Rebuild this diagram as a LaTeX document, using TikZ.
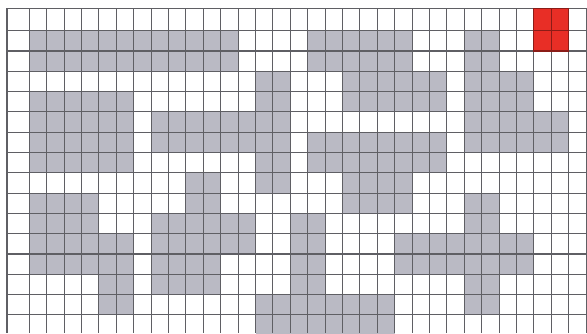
\documentclass[tikz,border=0pt]{standalone}
\usepackage{xcolor}
\usepackage{tikz}

\definecolor{wallgray}{RGB}{186,186,196}
\definecolor{goalred}{RGB}{232,46,38}
\definecolor{linegray}{RGB}{95,95,100}

\begin{document}
\begin{tikzpicture}[
  x=1pt, y=-1pt,
  wall/.style={fill=wallgray},
  goal/.style={fill=goalred},
  gridline/.style={draw=linegray, line width=1.1pt},
  goalline/.style={draw=goalred!60!black, line width=1.1pt},
]

%% ── Cadre de l'image ────────────────────────────────────────────────────
\useasboundingbox (0,0) rectangle (587,333);
\clip (0,0) rectangle (587,333);

%% ── Cases grises (rangée / première colonne / dernière colonne) ─────────
\foreach \r/\a/\b in {
  1/1/12, 1/17/22, 1/26/27,
  2/1/12, 2/17/22, 2/26/27,
  3/14/15, 3/19/24, 3/26/29,
  4/1/6, 4/14/15, 4/19/24, 4/26/29,
  5/1/6, 5/8/15, 5/26/31,
  6/1/6, 6/8/15, 6/17/24, 6/26/31,
  7/1/6, 7/14/15, 7/17/24,
  8/10/11, 8/14/15, 8/19/22,
  9/1/4, 9/10/11, 9/19/22, 9/26/27,
  10/1/4, 10/8/13, 10/16/17, 10/26/27,
  11/1/6, 11/8/13, 11/16/17, 11/22/29,
  12/1/6, 12/8/11, 12/16/17, 12/22/29,
  13/5/6, 13/8/11, 13/16/17, 13/26/27,
  14/5/6, 14/14/21, 14/26/27,
  15/14/21}{
  \pgfmathsetmacro{\xa}{11.9+17.4*\a}
  \pgfmathsetmacro{\xb}{11.9+17.4*(\b+1)}
  \pgfmathsetmacro{\ya}{10.4+20.3*\r}
  \pgfmathsetmacro{\yb}{10.4+20.3*(\r+1)}
  \fill[wall] (\xa,\ya) rectangle (\xb,\yb);
}

%% ── But (carré rouge en haut à droite) ──────────────────────────────────
\coordinate (goalNW) at ({11.9+17.4*30},8.3);
\coordinate (goalSE) at ({11.9+17.4*32},{10.4+20.3*2});
\fill[goal] (goalNW) rectangle (goalSE);

%% ── Lignes de la grille ─────────────────────────────────────────────────
\draw[gridline] (7,8.3) -- (7,333);
\foreach \k in {1,...,33}
  \draw[gridline] ({11.9+17.4*\k},8.3) -- ({11.9+17.4*\k},333);
\draw[gridline] (7,8.3) -- (587,8.3);
\foreach \j in {1,...,16}
  \draw[gridline] (7,{10.4+20.3*\j}) -- (587,{10.4+20.3*\j});

%% ── Contour du but ──────────────────────────────────────────────────────
\draw[goalline] (goalNW) rectangle (goalSE);
\draw[goalline] ({11.9+17.4*31},8.3) -- ({11.9+17.4*31},{10.4+20.3*2});
\draw[goalline] ({11.9+17.4*30},{10.4+20.3}) -- ({11.9+17.4*32},{10.4+20.3});

\end{tikzpicture}
\end{document}
